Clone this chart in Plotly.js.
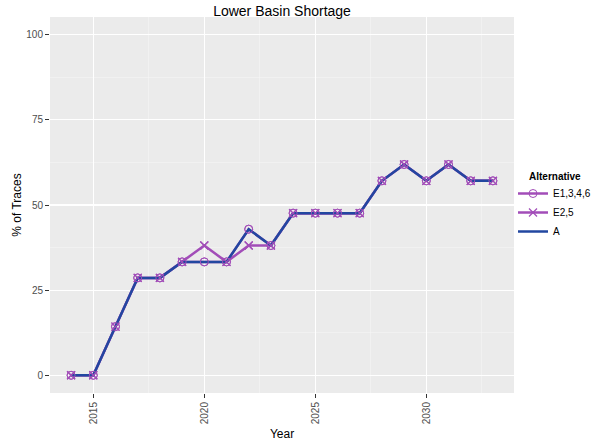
<!DOCTYPE html>
<html>
<head>
<meta charset="utf-8">
<script src="https://cdn.plot.ly/plotly-3.0.1.min.js"></script>
<style>html,body{margin:0;padding:0;background:#fff;}#chart{width:595px;height:446px;}</style>
</head>
<body>
<div id="chart"></div>
<script>
var years = [2014,2015,2016,2017,2018,2019,2020,2021,2022,2023,2024,2025,2026,2027,2028,2029,2030,2031,2032,2033];
var seriesE1346 = [0,0,14.3,28.6,28.6,33.3,33.3,33.3,42.9,38.1,47.6,47.6,47.6,47.6,57.1,61.9,57.1,61.9,57.1,57.1];
var seriesE25   = [0,0,14.3,28.6,28.6,33.3,38.1,33.3,38.1,38.1,47.6,47.6,47.6,47.6,57.1,61.9,57.1,61.9,57.1,57.1];
var seriesA     = [0,0,14.3,28.6,28.6,33.3,33.3,33.3,42.9,38.1,47.6,47.6,47.6,47.6,57.1,61.9,57.1,61.9,57.1,57.1];
var names = ['E1,3,4,6','E2,5','A'];
var yTicks = [0,25,50,75,100];
var xTicks = [2015,2020,2025,2030];

var purple = '#a24db8';
var blue = '#2247a0';

var traces = [
  {x: years, y: seriesE1346, name: names[0], mode: 'lines+markers', type: 'scatter',
   line: {color: purple, width: 2.5},
   marker: {symbol: 'circle-open', size: 8, color: purple, line: {width: 1}}},
  {x: years, y: seriesE25, name: names[1], mode: 'lines+markers', type: 'scatter',
   line: {color: purple, width: 2.5},
   marker: {symbol: 'x-thin-open', size: 8, color: purple, line: {width: 1.2, color: purple}}},
  {x: years, y: seriesA, name: names[2], mode: 'lines', type: 'scatter',
   line: {color: blue, width: 2.5}},
  {x: years, y: seriesE1346, name: names[0], mode: 'markers', type: 'scatter', showlegend: false,
   marker: {symbol: 'circle-open', size: 8, color: purple, line: {width: 1}}},
  {x: years, y: seriesE25, name: names[1], mode: 'markers', type: 'scatter', showlegend: false,
   marker: {symbol: 'x-thin-open', size: 8, color: purple, line: {width: 1.2, color: purple}}}
];

var fontFam = 'Liberation Sans, Arial, sans-serif';
var layout = {
  width: 595, height: 446,
  margin: {l: 50, r: 81, t: 17, b: 53, pad: 0, autoexpand: false},
  paper_bgcolor: '#ffffff',
  plot_bgcolor: '#ebebeb',
  font: {family: fontFam, color: '#000'},
  title: {text: 'Lower Basin Shortage', font: {size: 14, family: fontFam, color: '#000'},
          x: 0.474, xanchor: 'center', y: 0.985, yanchor: 'top'},
  xaxis: {
    range: [2013.05, 2033.95], tickvals: xTicks, ticktext: xTicks.map(String),
    tickangle: -90, ticks: 'outside', ticklen: 4, tickcolor: '#333333', tickwidth: 1,
    tickfont: {size: 10, color: '#4d4d4d', family: fontFam},
    showgrid: true, gridcolor: '#ffffff', gridwidth: 1.1, zeroline: false, showline: false,
    minor: {tickvals: [2017.5,2022.5,2027.5,2032.5], showgrid: true, gridcolor: '#f7f7f7', gridwidth: 0.5, ticks: ''},
    title: {text: 'Year', font: {size: 12, family: fontFam, color: '#000'}, standoff: 6}
  },
  yaxis: {
    range: [-5.2, 105.2], tickvals: yTicks, ticktext: yTicks.map(String),
    ticks: 'outside', ticklen: 4, tickcolor: '#333333', tickwidth: 1,
    tickfont: {size: 10, color: '#4d4d4d', family: fontFam},
    showgrid: true, gridcolor: '#ffffff', gridwidth: 1.1, zeroline: false, showline: false,
    minor: {tickvals: [12.5,37.5,62.5,87.5], showgrid: true, gridcolor: '#f7f7f7', gridwidth: 0.5, ticks: ''},
    title: {text: '% of Traces', font: {size: 12, family: fontFam, color: '#000'}, standoff: 2}
  },
  legend: {
    xref: 'container', yref: 'container',
    x: 513 / 595, xanchor: 'left', y: 1 - 179 / 446, yanchor: 'top',
    font: {size: 10, family: fontFam, color: '#000'},
    itemwidth: 30,
    bgcolor: 'rgba(0,0,0,0)', traceorder: 'normal', tracegroupgap: 0
  },
  annotations: [{
    xref: 'paper', yref: 'paper', x: (527 - 50) / 464, y: (393 - 176) / 376,
    xanchor: 'left', yanchor: 'middle', showarrow: false,
    text: '<b>Alternative</b>', font: {size: 10, family: fontFam, color: '#000'}
  }],
  showlegend: true
};

Plotly.newPlot('chart', traces, layout, {displayModeBar: false, staticPlot: true});
</script>
</body>
</html>
